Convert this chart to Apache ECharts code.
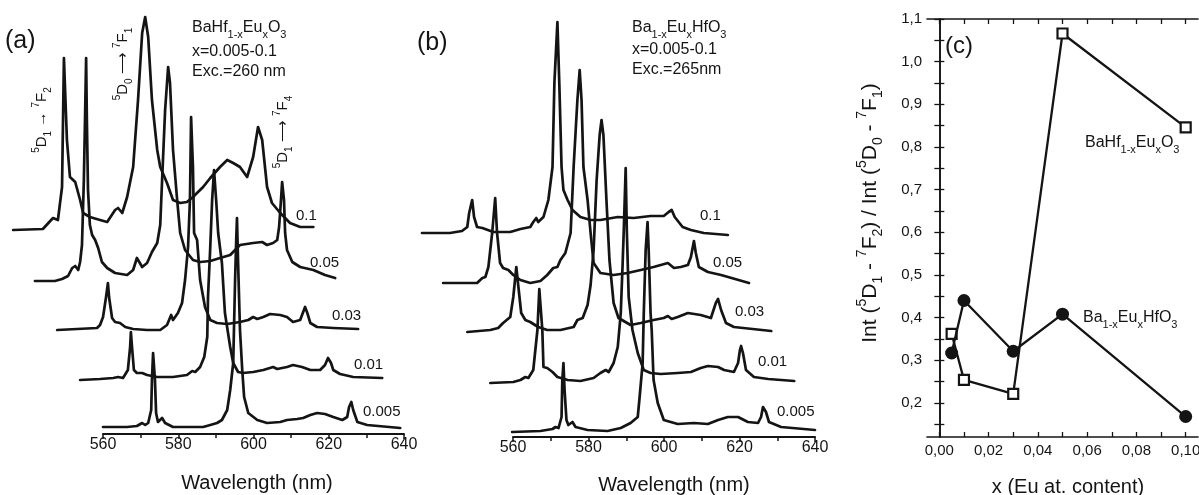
<!DOCTYPE html>
<html>
<head>
<meta charset="utf-8">
<script src="https://cdn.jsdelivr.net/npm/echarts@6/dist/echarts.min.js"></script>
<style>
html, body { margin: 0; padding: 0; background: #fff; }
#chart { width: 1199px; height: 495px; }
</style>
</head>
<body>
<div id="chart"></div>
<script>
// (a) BaHf1-xEuxO3 spectra, stacked; [wavelength on the plotted axis, intensity a.u.]
const a_01 = [[536.1,204],[544.0,205],[546.7,216],[548.0,214],[549.1,247],[549.6,376],[550.4,294],[551.2,257],[552.6,252],[553.9,234],[554.7,221],[556.5,217],[559.2,214],[561.1,212],[563.2,224],[564.0,226],[565.1,221],[566.4,237],[568.0,267],[569.3,334],[570.4,401],[571.2,417],[572.0,397],[573.0,334],[574.4,284],[575.2,267],[577.0,251],[578.6,234],[580.5,231],[582.3,232],[583.9,237],[586.6,247],[588.5,256],[591.1,267],[593.0,274],[594.6,271],[596.4,267],[598.3,257],[599.9,277],[601.2,307],[602.3,294],[603.6,247],[604.9,231],[607.1,221],[609.7,211],[612.4,207],[615.9,207]]
const a_005 = [[541.9,153],[547.2,153],[549.1,155],[550.7,158],[551.8,166],[552.6,168],[553.4,164],[553.9,172],[554.4,189],[554.9,254],[555.2,314],[555.5,376],[555.7,314],[556.0,244],[556.5,209],[557.1,199],[557.9,194],[558.7,186],[559.7,172],[561.1,166],[563.2,161],[566.4,159],[568.0,164],[569.0,176],[570.4,167],[571.7,171],[573.0,182],[574.4,191],[575.2,209],[575.7,254],[576.5,324],[577.3,367],[577.8,351],[578.6,284],[579.7,234],[580.5,201],[581.8,184],[583.9,174],[585.8,172],[588.5,173],[591.1,176],[593.8,179],[596.4,189],[599.9,191],[602.3,192],[603.6,189],[605.2,191],[606.3,194],[606.8,207],[607.3,234],[607.6,252],[608.1,234],[608.4,201],[608.9,184],[610.3,172],[612.4,167],[615.9,164],[619.0,159],[621.7,156]]
const a_003 = [[547.8,104],[553.1,105],[558.4,106],[559.2,109],[560.0,117],[560.8,137],[561.3,151],[561.6,137],[562.4,116],[563.2,112],[564.5,111],[565.9,107],[568.0,105],[571.7,104],[575.2,104],[577.0,109],[578.1,119],[578.6,114],[579.9,121],[581.0,131],[581.8,154],[582.6,187],[583.1,234],[583.4,317],[583.9,267],[584.2,201],[585.0,194],[585.8,154],[587.1,127],[588.5,114],[590.3,111],[593.0,110],[596.4,112],[598.6,114],[599.9,117],[601.0,115],[602.6,117],[604.4,120],[607.1,119],[608.9,117],[610.5,112],[612.4,114],[613.2,122],[613.7,127],[614.3,121],[615.1,111],[616.9,107],[621.2,106],[627.8,105]]
const a_001 = [[553.9,54],[559.2,55],[562.7,56],[564.0,57],[565.3,56],[566.6,64],[567.2,87],[567.4,102],[567.7,87],[568.2,64],[569.0,61],[570.4,61],[571.7,59],[574.4,57],[578.6,57],[582.3,59],[583.7,63],[584.5,62],[585.8,67],[586.9,77],[587.7,97],[587.9,137],[588.5,187],[589.0,234],[589.5,264],[590.1,232],[590.6,201],[591.6,171],[592.4,121],[593.8,87],[594.6,71],[595.9,62],[597.2,61],[599.9,62],[602.6,64],[605.2,67],[606.3,65],[608.9,67],[610.5,69],[612.9,67],[615.1,64],[617.7,64],[619.0,69],[619.8,76],[620.1,77],[620.6,71],[621.2,64],[623.0,60],[626.5,57],[634.2,56]]
const a_0005 = [[560.0,7],[566.4,7],[569.0,8],[570.4,11],[571.2,9],[572.0,11],[572.8,24],[573.0,54],[573.3,81],[573.8,54],[574.1,21],[574.6,12],[575.7,16],[576.5,11],[578.6,7],[582.3,7],[586.6,7],[588.5,9],[590.3,11],[591.6,14],[593.0,24],[593.8,44],[594.6,71],[594.8,104],[595.1,154],[595.4,194],[595.6,216],[595.9,171],[596.4,104],[597.0,64],[597.5,37],[598.6,21],[601.0,14],[603.6,11],[607.1,12],[608.9,14],[611.6,15],[613.2,16],[615.1,19],[616.9,21],[619.0,20],[621.2,17],[623.6,14],[624.9,17],[625.4,27],[626.0,32],[626.5,24],[627.6,12],[630.2,9],[639.0,6]]

// (b) Ba1-xEuxHfO3 spectra
const b_01 = [[535.8,204],[543.2,204],[546.4,206],[547.8,210],[548.3,224],[549.1,237],[549.6,220],[550.4,210],[551.8,209],[554.7,205],[559.2,205],[561.9,208],[564.5,210],[565.3,215],[566.1,219],[566.6,215],[568.0,220],[569.3,237],[570.4,270],[570.9,354],[571.7,415],[572.2,354],[572.8,270],[573.3,247],[574.4,237],[575.7,227],[577.8,220],[580.5,217],[583.1,217],[587.7,220],[591.9,219],[596.4,221],[599.9,221],[601.2,225],[602.0,227],[602.8,220],[604.9,210],[607.1,207],[610.5,204],[616.9,202]]
const b_005 = [[541.4,154],[550.4,154],[551.8,159],[552.6,160],[553.4,170],[554.4,204],[555.2,239],[555.7,204],[556.5,174],[557.3,169],[558.7,167],[560.0,162],[561.9,157],[564.5,154],[567.2,156],[569.0,162],[570.6,169],[571.7,170],[572.5,177],[573.8,184],[575.2,204],[576.0,270],[577.0,337],[577.6,367],[578.1,337],[578.6,270],[579.7,237],[580.5,204],[581.3,174],[583.1,164],[586.6,162],[590.3,164],[593.8,167],[597.2,170],[601.0,174],[602.6,169],[604.4,170],[606.3,172],[607.1,180],[607.9,196],[608.4,184],[609.2,170],[611.6,165],[615.1,162],[622.5,154]]
const b_003 = [[547.8,105],[553.9,107],[556.0,109],[557.3,114],[559.2,120],[560.0,140],[560.8,170],[561.3,152],[562.1,124],[563.2,117],[564.5,115],[566.6,110],[569.0,107],[572.5,107],[576.0,110],[577.0,117],[578.4,119],[579.7,132],[580.5,152],[581.3,187],[582.1,257],[582.9,302],[583.4,317],[583.9,302],[584.7,237],[585.5,177],[586.6,134],[587.9,119],[591.1,112],[593.8,114],[597.2,117],[599.9,119],[601.0,121],[602.0,118],[603.6,120],[606.3,124],[609.7,122],[612.4,119],[613.7,134],[614.3,138],[615.1,127],[616.4,114],[618.5,110],[628.4,106]]
const b_001 = [[553.9,54],[560.0,55],[561.9,57],[563.2,60],[564.0,59],[565.3,67],[566.4,107],[566.9,148],[567.7,107],[568.0,70],[569.0,69],[570.4,65],[571.7,60],[574.4,57],[577.8,56],[581.3,59],[583.1,64],[584.5,67],[585.3,65],[586.6,74],[587.7,90],[588.5,124],[589.0,174],[589.3,207],[589.8,269],[590.1,207],[590.6,140],[591.6,107],[593.0,84],[594.6,67],[596.4,64],[599.1,63],[603.6,64],[607.1,65],[609.7,69],[611.6,71],[614.3,70],[615.9,67],[618.5,65],[619.6,74],[620.1,87],[620.4,91],[620.9,84],[621.7,67],[623.8,60],[627.6,58],[634.5,56]]
const b_0005 = [[559.7,5],[567.2,6],[570.4,8],[571.2,10],[572.0,9],[572.8,20],[573.0,57],[573.3,74],[573.6,47],[574.1,17],[574.6,12],[575.7,15],[576.5,10],[579.7,7],[585.0,6],[588.5,9],[591.1,14],[593.0,20],[593.5,40],[594.3,74],[594.6,124],[595.1,187],[595.6,215],[595.9,187],[596.4,124],[596.7,107],[597.2,57],[598.3,34],[599.9,17],[603.6,13],[607.9,14],[611.6,13],[614.3,17],[616.9,20],[619.6,20],[622.2,15],[624.9,14],[625.7,20],[626.2,30],[626.5,32],[627.0,25],[627.8,15],[631.0,10],[640.0,7]]

const concLabels = ['0.1', '0.05', '0.03', '0.01', '0.005']

// (c) intensity ratio vs Eu content
const euContent = [0.005, 0.01, 0.03, 0.05, 0.1]
const ratioBaHf = [0.362, 0.254, 0.221, 1.066, 0.846]
const ratioBaEu = [0.317, 0.440, 0.321, 0.408, 0.168]
const xLabelsC = [0, 0.02, 0.04, 0.06, 0.08, 0.1]
const xTicksC = [0, 0.01, 0.02, 0.03, 0.04, 0.05, 0.06, 0.07, 0.08, 0.09, 0.1]
const yLabelsC = [0.2, 0.3, 0.4, 0.5, 0.6, 0.7, 0.8, 0.9, 1.0, 1.1]
const yTicksC = [0.15, 0.2, 0.25, 0.3, 0.35, 0.4, 0.45, 0.5, 0.55, 0.6, 0.65, 0.7, 0.75, 0.8, 0.85, 0.9, 0.95, 1.0, 1.05, 1.1]

const FONT = '"Liberation Sans", Arial, Helvetica, sans-serif'
const INK = '#141414'

const chart = echarts.init(document.getElementById('chart'))

function richSet(size) {
    const s = Math.round(size * 0.66)
    return {
        n: { fontSize: size, fontFamily: FONT, fill: INK, color: INK, lineHeight: size + 2 },
        b: { fontSize: s, fontFamily: FONT, fill: INK, color: INK, lineHeight: s, padding: [Math.round(size * 0.8), 0, 0, 0] },
        t: { fontSize: s, fontFamily: FONT, fill: INK, color: INK, lineHeight: s, padding: [0, 0, Math.round(size * 0.7), 0] }
    }
}

function label(x, y, text, size, align, rot) {
    return {
        type: 'text', x: x, y: y, rotation: rot || 0, silent: true,
        style: {
            text: text, rich: richSet(size), fontSize: size, fontFamily: FONT, fill: INK,
            align: align || 'left', textAlign: align || 'left',
            verticalAlign: 'middle', textVerticalAlign: 'middle'
        }
    }
}

const HF_FORMULA = '{n|BaHf}{b|1-x}{n|Eu}{b|x}{n|O}{b|3}'
const BA_FORMULA = '{n|Ba}{b|1-x}{n|Eu}{b|x}{n|HfO}{b|3}'

function spectrum(data, axis) {
    return {
        type: 'line', xAxisIndex: axis, yAxisIndex: axis, data: data,
        symbol: 'none', showSymbol: false, silent: true, clip: false,
        lineStyle: { color: INK, width: 2.7, join: 'round', cap: 'round' }
    }
}

const nmAxis = (grid) => ({
    gridIndex: grid, type: 'value', min: 560, max: 640, interval: 20,
    axisLine: { show: true, lineStyle: { color: INK, width: 2 } },
    axisTick: { show: true, inside: false, length: 5, lineStyle: { color: INK, width: 1.5 } },
    minorTick: { show: true, splitNumber: 2, length: 4, lineStyle: { color: INK, width: 1.5 } },
    axisLabel: { color: INK, fontSize: 16, fontFamily: FONT, margin: 3 },
    splitLine: { show: false }, minorSplitLine: { show: false }
})
const hidden = (grid, min, max) => ({ gridIndex: grid, type: 'value', min: min, max: max, show: false })
const comma = (d) => (v) => v.toFixed(d).replace('.', ',')

const option = {
    animation: false,
    backgroundColor: '#fff',
    textStyle: { fontFamily: FONT, color: INK },
    grid: [
        { left: 9, right: 795, top: 10, bottom: 61, outerBoundsMode: 'none' },
        { left: 103, right: 795, top: 10, bottom: 61, outerBoundsMode: 'none' },
        { left: 419, right: 384, top: 13, bottom: 58, outerBoundsMode: 'none' },
        { left: 513, right: 384, top: 13, bottom: 58, outerBoundsMode: 'none' },
        { left: 927, right: 1, top: 19, bottom: 58, outerBoundsMode: 'none' }
    ],
    xAxis: [
        hidden(0, 535, 640),
        nmAxis(1),
        hidden(2, 535, 640),
        nmAxis(3),
        {
            gridIndex: 4, type: 'value', position: 'bottom', min: -0.005, max: 0.105,
            axisLine: { show: true, lineStyle: { color: INK, width: 1.6 } },
            axisTick: { show: true, inside: true, length: 5, customValues: xTicksC, lineStyle: { color: INK, width: 1.3 } },
            axisLabel: { customValues: xLabelsC, formatter: comma(2), color: INK, fontSize: 15, fontFamily: FONT, margin: 6 },
            splitLine: { show: false }
        },
        {
            gridIndex: 4, type: 'value', position: 'top', min: -0.005, max: 0.105,
            axisLine: { show: true, lineStyle: { color: INK, width: 1.6 } },
            axisTick: { show: true, inside: true, length: 5, customValues: xTicksC, lineStyle: { color: INK, width: 1.3 } },
            axisLabel: { show: false },
            splitLine: { show: false }
        }
    ],
    yAxis: [
        hidden(0, 0, 424),
        hidden(1, 0, 1),
        hidden(2, 0, 424),
        hidden(3, 0, 1),
        {
            gridIndex: 4, type: 'value', position: 'left', min: 0.12, max: 1.1,
            axisLine: { show: true, lineStyle: { color: INK, width: 1.6 } },
            axisTick: { show: true, inside: true, length: 5, customValues: yTicksC, lineStyle: { color: INK, width: 1.3 } },
            axisLabel: { customValues: yLabelsC, formatter: comma(1), color: INK, fontSize: 15, fontFamily: FONT, margin: 5 },
            splitLine: { show: false }
        },
        {
            gridIndex: 4, type: 'value', position: 'right', min: 0.12, max: 1.1,
            axisLine: { show: true, lineStyle: { color: INK, width: 1.6 } },
            axisTick: { show: true, inside: true, length: 5, customValues: yTicksC, lineStyle: { color: INK, width: 1.3 } },
            axisLabel: { show: false },
            splitLine: { show: false }
        }
    ],
    series: [
        spectrum(a_01, 0), spectrum(a_005, 0), spectrum(a_003, 0), spectrum(a_001, 0), spectrum(a_0005, 0),
        spectrum(b_01, 2), spectrum(b_005, 2), spectrum(b_003, 2), spectrum(b_001, 2), spectrum(b_0005, 2),
        {
            type: 'line', xAxisIndex: 4, yAxisIndex: 4, name: 'BaHf1-xEuxO3',
            data: euContent.map((x, i) => [x, ratioBaHf[i]]),
            symbol: 'rect', symbolSize: 10, showSymbol: true,
            itemStyle: { color: '#fff', borderColor: INK, borderWidth: 2.2 },
            lineStyle: { color: INK, width: 2.3 }, z: 3
        },
        {
            type: 'line', xAxisIndex: 4, yAxisIndex: 4, name: 'Ba1-xEuxHfO3',
            data: euContent.map((x, i) => [x, ratioBaEu[i]]),
            symbol: 'circle', symbolSize: 13, showSymbol: true,
            itemStyle: { color: INK },
            lineStyle: { color: INK, width: 2.3 }, z: 4
        }
    ],
    graphic: [
        // panel (a)
        label(5, 41, '(a)', 25),
        label(192, 28, HF_FORMULA, 16),
        label(192, 52, 'x=0.005-0.1', 16),
        label(192, 72, 'Exc.=260 nm', 16),
        label(42, 120, '{t|5}{n|D}{b|1}{n| → }{t|7}{n|F}{b|2}', 15, 'center', Math.PI / 2),
        label(123, 64, '{t|5}{n|D}{b|0}{n| ⟶ }{t|7}{n|F}{b|1}', 15, 'center', Math.PI / 2),
        label(283, 132, '{t|5}{n|D}{b|1}{n| ⟶ }{t|7}{n|F}{b|4}', 15, 'center', Math.PI / 2),
        label(296, 216, concLabels[0], 15),
        label(310, 263, concLabels[1], 15),
        label(332, 316, concLabels[2], 15),
        label(354, 365, concLabels[3], 15),
        label(363, 412, concLabels[4], 15),
        label(257, 483, 'Wavelength (nm)', 20, 'center'),
        // panel (b)
        label(417, 43, '(b)', 25),
        label(632, 28, BA_FORMULA, 16),
        label(632, 50, 'x=0.005-0.1', 16),
        label(632, 70, 'Exc.=265nm', 16),
        label(700, 216, concLabels[0], 15),
        label(713, 263, concLabels[1], 15),
        label(735, 312, concLabels[2], 15),
        label(758, 362, concLabels[3], 15),
        label(777, 412, concLabels[4], 15),
        label(674, 485, 'Wavelength (nm)', 20, 'center'),
        // panel (c)
        label(945, 46, '(c)', 24),
        label(1085, 143, HF_FORMULA, 16),
        label(1083, 318, BA_FORMULA, 16),
        label(1068, 487, 'x (Eu at. content)', 20, 'center'),
        label(870, 213, '{n|Int (}{t|5}{n|D}{b|1}{n| - }{t|7}{n|F}{b|2}{n|) / Int (}{t|5}{n|D}{b|0}{n| - }{t|7}{n|F}{b|1}{n|)}', 21, 'center', Math.PI / 2)
    ]
}

chart.setOption(option)
</script>
</body>
</html>
